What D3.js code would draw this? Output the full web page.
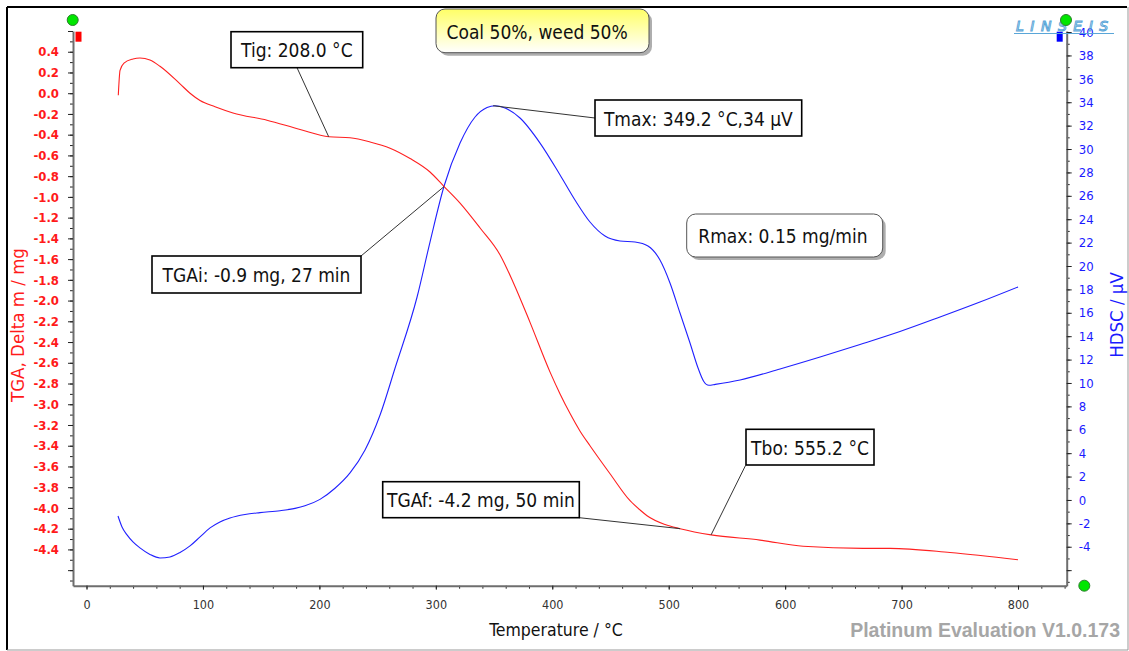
<!DOCTYPE html>
<html>
<head>
<meta charset="utf-8">
<script src="https://cdn.jsdelivr.net/npm/d3@7"></script>
<style>
  html, body { margin: 0; padding: 0; background: #fff; }
  svg { display: block; }
  .cond { font-family: 'DejaVu Sans Condensed', 'DejaVu Sans', sans-serif; font-stretch: semi-condensed; }
</style>
</head>
<body>
<svg id="chart" width="1129" height="651"></svg>
<script>
// ---------------- DATA ----------------
const chartTitle = "Coal 50%, weed 50%";
const xTickValues = [0, 100, 200, 300, 400, 500, 600, 700, 800];

// TGA (red, left axis) : temperature °C / mass change mg
const tgaTemp = [27.3, 28.8, 32.2, 39.9, 45.9, 54.5, 63.1, 80.3, 88.9, 97.5, 110.4, 125.8, 155.0, 183.4, 208.2, 226.3, 243.5, 260.7, 277.9, 295.0, 307.1, 320.8, 338.0, 355.2, 366.3, 380.9, 398.1, 406.7, 415.3, 423.9, 432.4, 449.6, 466.8, 475.4, 481.4, 496.9, 509.8, 536.4, 578.4, 615.4, 666.9, 690.1, 741.6, 800.0];
const tgaMass = [-0.02, 0.22, 0.29, 0.33, 0.34, 0.32, 0.26, 0.09, 0.00, -0.07, -0.13, -0.19, -0.26, -0.35, -0.42, -0.43, -0.47, -0.53, -0.63, -0.76, -0.90, -1.06, -1.30, -1.56, -1.82, -2.21, -2.69, -2.90, -3.09, -3.26, -3.40, -3.67, -3.93, -4.02, -4.075, -4.16, -4.20, -4.26, -4.31, -4.37, -4.39, -4.39, -4.43, -4.50];

// HDSC (blue, right axis) : temperature °C / signal µV
const dscTemp = [27.05, 30.5, 34.8, 39.9, 45.9, 54.5, 63.1, 71.7, 80.3, 88.9, 97.5, 106.1, 114.6, 123.2, 136.1, 149.0, 166.2, 179.1, 187.6, 200.5, 213.4, 226.3, 239.2, 252.1, 265.0, 283.9, 295.0, 307.1, 320.8, 333.7, 344.0, 350.8, 359.4, 372.3, 389.5, 406.7, 419.5, 432.4, 445.3, 458.2, 471.1, 482.2, 492.5, 501.1, 509.7, 518.3, 525.2, 530.0, 534.5, 540.0, 561.3, 595.6, 630.0, 664.3, 698.6, 733.0, 767.3, 800.0];
const dscSignal = [-1.37, -2.31, -2.99, -3.59, -4.10, -4.66, -4.96, -4.87, -4.49, -3.93, -3.16, -2.39, -1.88, -1.54, -1.24, -1.08, -0.92, -0.72, -0.50, 0.05, 1.00, 2.31, 4.27, 7.26, 11.28, 17.35, 22.05, 26.84, 30.51, 32.74, 33.55, 33.70, 33.50, 32.65, 30.51, 27.78, 25.64, 23.76, 22.56, 22.14, 22.05, 21.71, 20.51, 18.55, 15.98, 13.42, 11.28, 10.15, 9.80, 9.88, 10.26, 11.20, 12.22, 13.29, 14.40, 15.64, 16.92, 18.21];

// Annotations: label, anchor temperature, anchor value, axis
const annLabels = ["Tig: 208.0 °C", "TGAi: -0.9 mg, 27 min", "Tmax: 349.2 °C,34 µV", "Tbo: 555.2 °C", "TGAf: -4.2 mg, 50 min"];
const annTemps  = [208.0, 307.1, 349.2, 536.4, 509.8];
const annValues = [-0.42, -0.90, 33.7, -4.26, -4.20];
const annAxis   = ["L", "L", "R", "L", "L"];
const rmaxLabel = "Rmax: 0.15 mg/min";

// ---------------- LAYOUT ----------------
const svg = d3.select("#chart");
const W = 1129, H = 651;
const pLeft = 73, pRight = 1066.7, pTop = 31, pBottom = 585.7;

const x = d3.scaleLinear().domain([-11.6, 841.8]).range([pLeft, pRight]);
const yL = d3.scaleLinear().domain([-4.75, 0.6]).range([pBottom, pTop]);
const yR = d3.scaleLinear().domain([-7.33, 40.09]).range([pBottom, pTop]);

const defs = svg.append("defs");
const grad = defs.append("linearGradient").attr("id", "yellowGrad").attr("x1", 0).attr("y1", 0).attr("x2", 0).attr("y2", 1);
grad.append("stop").attr("offset", "0%").attr("stop-color", "#ffff66");
grad.append("stop").attr("offset", "100%").attr("stop-color", "#ffffff");

svg.append("rect").attr("width", W).attr("height", H).attr("fill", "#fff");
// frame
svg.append("line").attr("x1", 7).attr("y1", 7).attr("x2", 1127).attr("y2", 7).attr("stroke", "#000").attr("stroke-width", 2);
svg.append("line").attr("x1", 7).attr("y1", 7).attr("x2", 7).attr("y2", 650).attr("stroke", "#000").attr("stroke-width", 2);
svg.append("line").attr("x1", 7).attr("y1", 650).attr("x2", 1128).attr("y2", 650).attr("stroke", "#999").attr("stroke-width", 1);
svg.append("line").attr("x1", 1128).attr("y1", 7).attr("x2", 1128).attr("y2", 650).attr("stroke", "#999").attr("stroke-width", 1);

const fmt = v => d3.format(".1f")(v).replace("\u2212", "-");
const fmtI = v => d3.format("d")(v).replace("\u2212", "-");

function styleAxis(g, color, weight, size) {
  g.select(".domain").attr("stroke", "#6e6e6e").attr("stroke-width", 2);
  g.selectAll(".tick line").attr("stroke", "#222");
  g.selectAll(".tick text").attr("fill", color).attr("class", "cond")
    .style("font-size", size).style("font-weight", weight);
}

// left axis
const leftMinor = d3.range(-47, 7, 1).map(d => d / 10);
const leftMajor = d3.range(-46, 7, 2).map(d => d / 10);
svg.append("g").attr("transform", `translate(${pLeft},0)`)
  .call(d3.axisLeft(yL).tickValues(leftMinor).tickSize(3).tickSizeOuter(0).tickFormat(""))
  .call(g => { g.select(".domain").remove(); g.selectAll(".tick line").attr("stroke", "#222"); });
svg.append("g").attr("transform", `translate(${pLeft},0)`)
  .call(d3.axisLeft(yL).tickValues(leftMajor).tickSize(5).tickPadding(9).tickSizeOuter(0)
    .tickFormat(v => (v >= -4.45 && v <= 0.45) ? fmt(v) : ""))
  .call(g => styleAxis(g, "#ff1a1a", "bold", "13px"));

// right axis
const rightMinor = d3.range(-7, 41, 1);
const rightMajor = d3.range(-6, 41, 2);
svg.append("g").attr("transform", `translate(${pRight},0)`)
  .call(d3.axisRight(yR).tickValues(rightMinor).tickSize(3).tickSizeOuter(0).tickFormat(""))
  .call(g => { g.select(".domain").remove(); g.selectAll(".tick line").attr("stroke", "#222"); });
svg.append("g").attr("transform", `translate(${pRight},0)`)
  .call(d3.axisRight(yR).tickValues(rightMajor).tickSize(5).tickPadding(7).tickSizeOuter(0)
    .tickFormat(v => (v >= -4 && v <= 38) ? fmtI(v) : ""))
  .call(g => styleAxis(g, "#1a1aff", "normal", "13px"));
// top right label "40" (sits under the logo in the reference)
svg.append("text").attr("class", "cond").attr("x", pRight + 12).attr("y", yR(40) + 4.5)
  .attr("fill", "#1a1aff").style("font-size", "13px").text("40");

// bottom axis
const xMinor = d3.range(0, 841, 20);
svg.append("g").attr("transform", `translate(0,${pBottom})`)
  .call(d3.axisBottom(x).tickValues(xMinor).tickSize(3).tickSizeOuter(0).tickFormat(""))
  .call(g => { g.select(".domain").remove(); g.selectAll(".tick line").attr("stroke", "#222"); });
svg.append("g").attr("transform", `translate(0,${pBottom})`)
  .call(d3.axisBottom(x).tickValues(xTickValues).tickSize(4).tickPadding(10).tickSizeOuter(0).tickFormat(fmtI))
  .call(g => styleAxis(g, "#333", "normal", "12.5px"));

// axis titles
svg.append("text").attr("class", "cond").attr("transform", "translate(24,325) rotate(-90)")
  .attr("text-anchor", "middle").attr("fill", "#ff1a1a").style("font-size", "18.5px").text("TGA, Delta m / mg");
svg.append("text").attr("class", "cond").attr("transform", "translate(1123,315) rotate(-90)")
  .attr("text-anchor", "middle").attr("fill", "#1a1aff").style("font-size", "18.5px").text("HDSC / µV");
svg.append("text").attr("class", "cond").attr("x", 556).attr("y", 636)
  .attr("text-anchor", "middle").attr("fill", "#111").style("font-size", "17.5px").text("Temperature / °C");
svg.append("text").attr("x", 1120).attr("y", 637).attr("text-anchor", "end")
  .attr("fill", "#a6a6a6").style("font-family", "'Liberation Sans', Arial, sans-serif")
  .style("font-weight", "bold").style("font-size", "19.5px").text("Platinum Evaluation V1.0.173");

// curves
const tgaData = tgaTemp.map((t, i) => [t, tgaMass[i]]);
const dscData = dscTemp.map((t, i) => [t, dscSignal[i]]);
svg.append("path").datum(dscData).attr("fill", "none").attr("stroke", "#2020ff").attr("stroke-width", 1.1)
  .attr("d", d3.line().x(d => x(d[0])).y(d => yR(d[1])).curve(d3.curveMonotoneX));
svg.append("path").datum(tgaData).attr("fill", "none").attr("stroke", "#ff2020").attr("stroke-width", 1.1)
  .attr("d", d3.line().x(d => x(d[0])).y(d => yL(d[1])).curve(d3.curveMonotoneX));

// markers
svg.append("rect").attr("x", 75.5).attr("y", 31.7).attr("width", 6).attr("height", 10).attr("fill", "#ff0000");
svg.append("rect").attr("x", 1056.7).attr("y", 31.7).attr("width", 6).attr("height", 10).attr("fill", "#0000ff");

// LINSEIS logo
svg.append("text").attr("x", 1016).attr("y", 31).attr("fill", "none").attr("stroke", "#5aa6d8").attr("stroke-width", 1)
  .style("font-family", "'DejaVu Sans', sans-serif").style("font-style", "italic").style("font-size", "14px")
  .style("letter-spacing", "6.5px").text("LINSEIS");
svg.append("line").attr("x1", 1014).attr("x2", 1114).attr("y1", 33.5).attr("y2", 33.5).attr("stroke", "#5aa6d8").attr("stroke-width", 1.2);

const greenDots = [[72.7, 20], [1066, 20], [1084.3, 585.7]];
svg.selectAll("circle.gd").data(greenDots).enter().append("circle").attr("class", "gd")
  .attr("cx", d => d[0]).attr("cy", d => d[1]).attr("r", 5.5)
  .attr("fill", "#00e600").attr("stroke", "#2e7d2e").attr("stroke-width", 1);

// rounded boxes
function roundBox(x0, y0, w, h, fill, label, tx, ty) {
  svg.append("rect").attr("x", x0 + 3).attr("y", y0 + 3).attr("width", w).attr("height", h).attr("rx", 9)
    .attr("fill", "#9a9a9a").attr("opacity", 0.8);
  svg.append("rect").attr("x", x0).attr("y", y0).attr("width", w).attr("height", h).attr("rx", 9)
    .attr("fill", fill).attr("stroke", "#555").attr("stroke-width", 1);
  svg.append("text").attr("class", "cond").attr("x", tx).attr("y", ty).attr("fill", "#111")
    .style("font-size", "19px").text(label);
}
roundBox(436, 9, 213, 43.7, "url(#yellowGrad)", chartTitle, 446.5, 39.3);
roundBox(686.7, 214, 196, 43, "#fff", rmaxLabel, 698.3, 243);

// annotation boxes (box layout: x, y, w, h; connector start point)
const annBoxes = [
  {bx: 231, by: 31.7, bw: 131.7, bh: 36, sx: 297, sy: 67.7},
  {bx: 152, by: 256, bw: 209, bh: 37, sx: 361, sy: 256},
  {bx: 595, by: 100, bw: 206.7, bh: 36, sx: 595, sy: 118},
  {bx: 746, by: 429.3, bw: 128, bh: 35.7, sx: 745.5, sy: 465.5},
  {bx: 382.7, by: 481.7, bw: 196.6, bh: 36, sx: 579.3, sy: 517.7}
];
annLabels.forEach((lab, i) => {
  const b = annBoxes[i];
  const ax = x(annTemps[i]);
  const ay = annAxis[i] === "L" ? yL(annValues[i]) : yR(annValues[i]);
  svg.append("line").attr("x1", b.sx).attr("y1", b.sy).attr("x2", ax).attr("y2", ay)
    .attr("stroke", "#333").attr("stroke-width", 1);
  svg.append("rect").attr("x", b.bx).attr("y", b.by).attr("width", b.bw).attr("height", b.bh)
    .attr("fill", "#fff").attr("stroke", "#000").attr("stroke-width", 1.6);
  svg.append("text").attr("class", "cond").attr("x", b.bx + b.bw / 2).attr("y", b.by + 25.5)
    .attr("text-anchor", "middle").attr("fill", "#111").style("font-size", "19px").text(lab);
});
</script>
</body>
</html>
